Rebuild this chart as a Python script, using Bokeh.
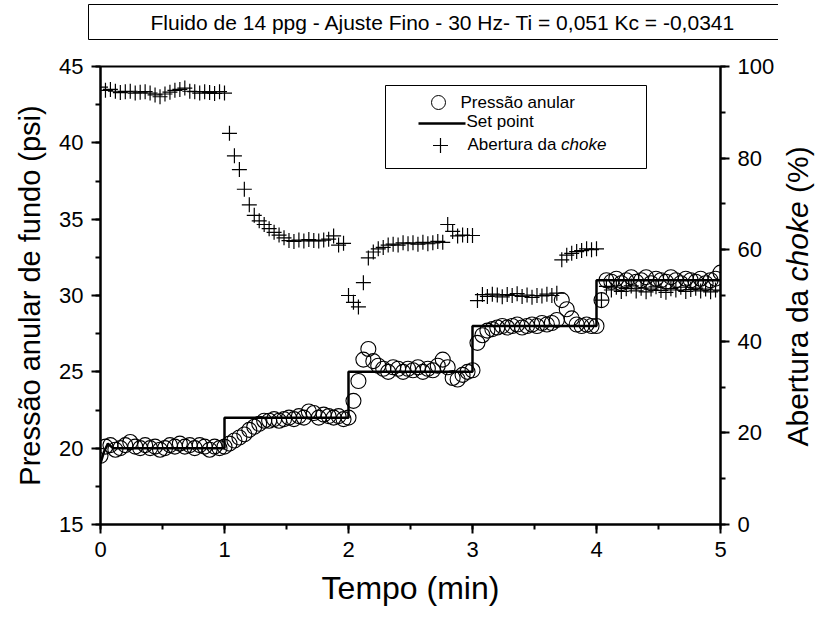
import math
from bokeh.plotting import figure
from bokeh.layouts import row
from bokeh.models import (Range1d, LinearAxis, SingleIntervalTicker, Label, Title,
                          BoxAnnotation, ColumnDataSource)
from bokeh.core.properties import value
from bokeh.embed import file_html
from bokeh.resources import INLINE

# ---------------- data ----------------
tempo = [
    0.00, 0.04, 0.08, 0.12, 0.16, 0.20, 0.24, 0.28, 0.32, 0.36, 0.40, 0.44, 0.48,
    0.52, 0.56, 0.60, 0.64, 0.68, 0.72, 0.76, 0.80, 0.84, 0.88, 0.92, 0.96,
    1.00, 1.04, 1.08, 1.12, 1.16, 1.20, 1.24, 1.28, 1.32, 1.36, 1.40, 1.44, 1.48,
    1.52, 1.56, 1.60, 1.64, 1.68, 1.72, 1.76, 1.80, 1.84, 1.88, 1.92, 1.96,
    2.00, 2.04, 2.08, 2.12, 2.16, 2.20, 2.24, 2.28, 2.32, 2.36, 2.40, 2.44, 2.48,
    2.52, 2.56, 2.60, 2.64, 2.68, 2.72, 2.76, 2.80, 2.84, 2.88, 2.92, 2.96,
    3.00, 3.04, 3.08, 3.12, 3.16, 3.20, 3.24, 3.28, 3.32, 3.36, 3.40, 3.44, 3.48,
    3.52, 3.56, 3.60, 3.64, 3.68, 3.72, 3.76, 3.80, 3.84, 3.88, 3.92, 3.96,
    4.00, 4.04, 4.08, 4.12, 4.16, 4.20, 4.24, 4.28, 4.32, 4.36, 4.40, 4.44, 4.48,
    4.52, 4.56, 4.60, 4.64, 4.68, 4.72, 4.76, 4.80, 4.84, 4.88, 4.92, 4.96, 5.00,
]

pressao_anular = [
    19.5, 20.1, 20.2, 19.9, 20.0, 20.2, 20.4, 20.1, 20.0, 20.2, 20.0, 20.1, 19.9,
    20.0, 20.2, 20.1, 20.3, 20.1, 20.2, 20.0, 20.2, 20.1, 19.9, 20.1, 20.0,
    20.1, 20.3, 20.5, 20.7, 20.9, 21.2, 21.4, 21.6, 21.8, 21.8, 21.9, 21.8, 21.9,
    22.0, 21.9, 22.1, 22.0, 22.4, 22.3, 22.0, 22.2, 22.1, 22.0, 22.1, 21.9,
    22.0, 23.1, 24.4, 25.8, 26.5, 25.7, 25.4, 25.2, 25.0, 25.3, 25.2, 25.0, 25.2,
    25.1, 25.3, 25.0, 25.2, 25.1, 25.4, 25.8, 25.3, 24.6, 24.5, 24.8, 25.0,
    25.1, 26.9, 27.4, 27.7, 27.8, 27.9, 28.0, 27.9, 28.0, 28.1, 27.9, 28.0, 28.1,
    28.0, 28.2, 28.1, 28.2, 28.4, 29.7, 29.1, 28.5, 28.1, 28.0, 28.1, 28.0,
    28.0, 29.7, 31.0, 30.9, 31.1, 30.8, 31.0, 31.2, 30.9, 31.0, 31.2, 30.8, 31.1,
    31.0, 30.9, 31.2, 31.0, 30.8, 31.1, 31.0, 30.9, 31.1, 30.8, 31.0, 31.1, 31.5,
]

abertura_choke = [
    95.5, 94.8, 95.0, 94.6, 94.3, 94.5, 94.6, 94.2, 94.4, 94.5, 94.2, 93.8, 93.4,
    94.0, 94.4, 94.8, 95.0, 95.3, 94.6, 94.5, 94.2, 94.5, 94.3, 94.1, 94.5,
    94.2, 85.4, 80.5, 77.5, 73.2, 69.8, 67.5, 66.3, 65.5, 64.6, 63.8, 63.2, 62.6,
    62.0, 61.8, 62.1, 61.9, 62.2, 62.0, 61.9, 62.1, 62.3, 63.0, 61.0, 61.4,
    50.0, 48.5, 47.5, 52.8, 58.2, 59.5, 60.2, 60.5, 61.0, 61.2, 61.0, 61.5, 61.3,
    61.5, 61.2, 61.6, 61.3, 61.5, 61.8, 61.6, 65.5, 64.0, 63.0, 63.2, 63.1,
    63.1, 48.9, 50.2, 49.8, 50.3, 50.1, 49.7, 50.2, 50.0, 50.4, 49.8, 50.1, 49.6,
    50.0, 49.9, 50.3, 50.0, 50.5, 57.8, 58.8, 59.2, 59.6, 59.8, 60.2, 60.0,
    60.2, 49.0, 52.0, 51.2, 51.8, 50.9, 51.5, 52.1, 51.0, 51.6, 50.8, 51.4, 51.9,
    51.1, 50.7, 51.5, 51.2, 51.8, 50.9, 51.3, 51.6, 51.0, 51.4, 50.8, 51.2, 51.0,
]

set_point_tempo = [0.0, 0.03, 0.06, 0.10, 1.0, 1.0, 2.0, 2.0, 3.0, 3.0, 4.0, 4.0, 5.0]
set_point_valor = [19.0, 19.8, 20.3, 20.0, 20.0, 22.0, 22.0, 25.0, 25.0, 28.0, 28.0, 31.0, 31.0]

x_ticks_interval = 1
y_left_ticks_interval = 5
y_right_ticks_interval = 20

titulo = "Fluido de 14 ppg  - Ajuste Fino - 30 Hz- Ti = 0,051 Kc = -0,0341"
rotulo_x = "Tempo (min)"
rotulo_y = "Pressão anular de fundo (psi)"
rotulo_y2 = ["Abertura da", "choke", "(%)"]
legenda = ["Pressão  anular", "Set point", "Abertura da", "choke"]

# ---------------- layout ----------------
FONT = "Liberation Sans"
FW, FH = 620, 458
XMIN, XMAX = 0.0, 5.0
YMIN, YMAX = 15.0, 45.0
BL, BR, BT, BB = 100, 58, 66, 93
TOTAL_H = BT + FH + BB
SIDE_W = 819 - (BL + FW + BR)


def dx(px):
    return XMIN + px * (XMAX - XMIN) / FW


def dy(py):
    return YMAX - py * (YMAX - YMIN) / FH


p = figure(frame_width=FW, frame_height=FH,
           x_range=Range1d(XMIN, XMAX), y_range=Range1d(YMIN, YMAX),
           output_backend="svg", toolbar_location=None,
           min_border_left=BL, min_border_right=BR,
           min_border_top=BT, min_border_bottom=BB,
           background_fill_color="white", border_fill_color="white")
p.extra_y_ranges = {"choke": Range1d(0, 100)}
p.grid.visible = False
p.outline_line_color = "black"
p.outline_line_width = 2

p.title.text = ""
p.title.text_font_size = "1px"
p.title.standoff = 0

# spacer (closest to the frame), then the boxed title above it
p.add_layout(Title(text=" ", text_font_size="1px", standoff=24), "above")
p.add_layout(Title(text=titulo, align="left", offset=-12, vertical_align="bottom",
                   standoff=0, text_font=FONT, text_font_size="21px",
                   text_font_style="normal", text_color="black",
                   border_line_color="black", border_line_width=1,
                   padding=(62, 6)), "above")

p.xaxis.ticker = SingleIntervalTicker(interval=x_ticks_interval, num_minor_ticks=2)
p.yaxis.ticker = SingleIntervalTicker(interval=y_left_ticks_interval, num_minor_ticks=2)
right = LinearAxis(y_range_name="choke",
                   ticker=SingleIntervalTicker(interval=y_right_ticks_interval, num_minor_ticks=2))
p.add_layout(right, "right")

for ax in [p.xaxis[0], p.yaxis[0], right]:
    ax.axis_line_width = 2
    ax.axis_line_color = "black"
    ax.major_tick_line_width = 2
    ax.minor_tick_line_width = 2
    ax.major_tick_in = 0
    ax.major_tick_out = 9
    ax.minor_tick_in = 0
    ax.minor_tick_out = 5
    ax.major_label_text_font = FONT
    ax.major_label_text_font_size = "22px"
    ax.major_label_text_color = "black"
    ax.major_label_standoff = 8
    ax.axis_label_text_font = FONT
    ax.axis_label_text_font_style = "normal"
    ax.axis_label_text_color = "black"

p.xaxis[0].axis_label = rotulo_x
p.xaxis[0].axis_label_text_font_size = "32px"
p.xaxis[0].axis_label_standoff = 10
p.yaxis[0].axis_label = rotulo_y
p.yaxis[0].axis_label_text_font_size = "29px"
p.yaxis[0].axis_label_standoff = 10

src = ColumnDataSource(dict(tempo=tempo, pressao=pressao_anular, abertura=abertura_choke))

p.line(set_point_tempo, set_point_valor, line_color="black", line_width=2.5)
p.scatter("tempo", "pressao", source=src, marker="circle", size=15,
          fill_color=None, line_color="black", line_width=1.1)
p.scatter("tempo", "abertura", source=src, marker="cross", size=15,
          line_color="black", line_width=1.2, y_range_name="choke")

# legend
LF = 17
p.add_layout(BoxAnnotation(left=dx(285), right=dx(546), top=dy(19), bottom=dy(102),
                           fill_color=None, line_color="black", line_width=1, line_alpha=1))
p.scatter([dx(338)], [dy(36)], marker="circle", size=14, fill_color=None,
          line_color="black", line_width=1)
p.line([dx(318), dx(365)], [dy(57), dy(57)], line_color="black", line_width=2.5)
p.scatter([dx(340)], [dy(79)], marker="cross", size=15, line_color="black", line_width=1.2)
for txt, px, py, style in [(legenda[0], 360, 36, "normal"), (legenda[1], 366, 55, "normal"),
                           (legenda[2], 367, 78, "normal"),
                           (legenda[3], 367 + 5.503 * LF, 78, "italic")]:
    p.add_layout(Label(x=dx(px), y=dy(py), text=txt, text_font=FONT,
                       text_font_size=f"{LF}px", text_font_style=style,
                       text_align="left", text_baseline="middle", text_color="black"))

# right-hand axis title (reads bottom to top, italic "choke") in a strip beside the plot.
# The strip's frame is aligned with the main frame by the row layout, so its y range
# is set so that one unit = one pixel, measured from the bottom of the page.
side = figure(width=SIDE_W, height=TOTAL_H, x_range=Range1d(0, SIDE_W),
              y_range=Range1d(BB, TOTAL_H - BT), x_axis_type=None, y_axis_type=None,
              output_backend="svg", toolbar_location=None, min_border=0,
              background_fill_color="white", border_fill_color="white")
side.title.text = ""
side.title.text_font_size = "1px"
side.title.standoff = 0
side.grid.visible = False
side.outline_line_color = None
RF = 30
cx = 797 - (BL + FW + BR)
start = TOTAL_H - 446          # bottom end of the whole label, measured from the bottom
widths = [5.225, 2.668, 1.555]  # em widths of the pieces
gaps = [0.278, 0.278, 0.0]      # a space after each piece
styles = ["normal", "italic", "normal"]
pos = start
for txt, style, w, g in zip(rotulo_y2, styles, widths, gaps):
    side.text(x=[cx], y=[pos + w * RF / 2], text=[txt], angle=math.pi / 2,
              text_font=value(FONT), text_font_size=f"{RF}px", text_font_style=style,
              text_align="center", text_baseline="middle", text_color="black")
    pos += (w + g) * RF

open("out.html", "w").write(file_html(row(p, side), INLINE))
